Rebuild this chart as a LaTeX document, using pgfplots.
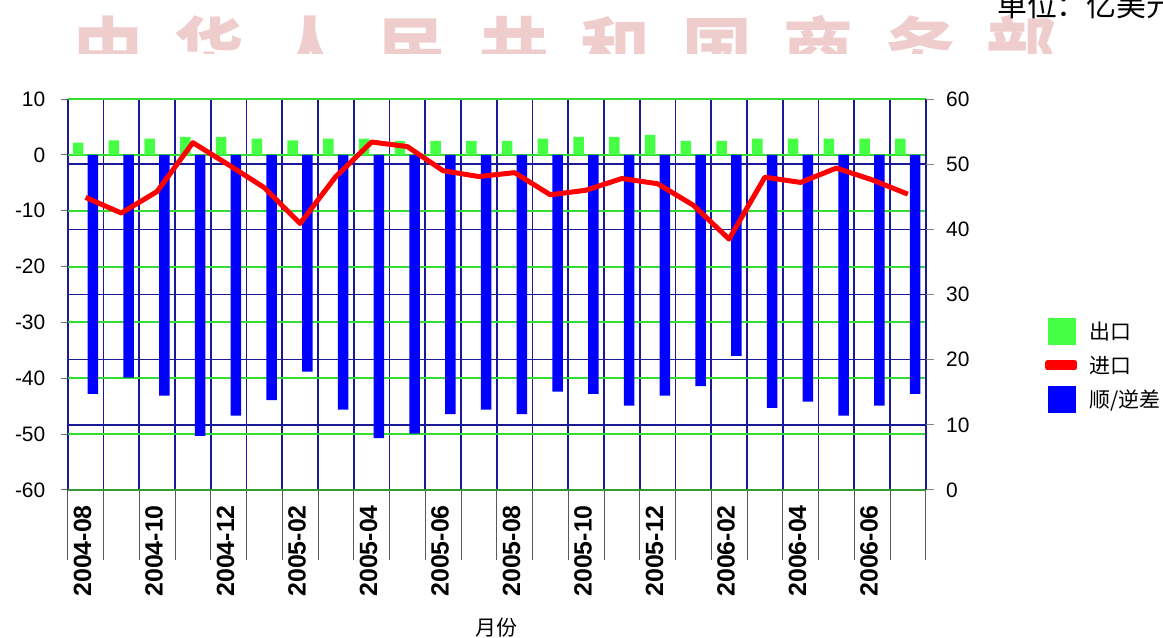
\documentclass[border=0pt]{standalone}
\usepackage{pgfplots}
\usepackage{pgfplotstable}
\pgfplotsset{compat=1.18}
\usepackage{fontspec}
\setmainfont{Liberation Sans}
\newfontfamily\cjk{Noto Sans CJK SC}

\definecolor{barGreen}{HTML}{44FF44}
\definecolor{gridGreen}{HTML}{33DD33}
\definecolor{axisGreen}{HTML}{339933}
\definecolor{barBlue}{HTML}{0000FF}
\definecolor{gridNavy}{HTML}{1A1A99}
\definecolor{lineRed}{HTML}{FF0000}
\definecolor{wmPink}{HTML}{EFCDCD}

% monthly trade, 2004-08 .. 2006-07 (x = month index)
% exp = export, imp = import (right axis), bal = balance
\pgfplotstableread{
x  exp  imp   bal
0  2.2  44.9  -42.8
1  2.6  42.5  -39.9
2  2.9  45.8  -43.1
3  3.2  53.3  -50.3
4  3.2  49.9  -46.7
5  2.9  46.4  -43.9
6  2.6  40.9  -38.8
7  2.9  48.1  -45.6
8  2.9  53.4  -50.7
9  2.5  52.7  -49.9
10 2.5  49.0  -46.4
11 2.5  48.1  -45.6
12 2.5  48.7  -46.4
13 2.9  45.3  -42.4
14 3.2  46.0  -42.8
15 3.2  47.8  -44.9
16 3.6  47.0  -43.1
17 2.5  43.7  -41.4
18 2.5  38.5  -36.0
19 2.9  48.0  -45.3
20 2.9  47.2  -44.2
21 2.9  49.4  -46.7
22 2.9  47.6  -44.9
23 2.9  45.4  -42.8
}\trade

\begin{document}
\begin{tikzpicture}
\useasboundingbox (0,0) rectangle (1163bp,638bp);

% watermark, only its upper part shows
\begin{scope}
  \clip (0,584bp) rectangle (1163bp,638bp);
  \foreach \c/\x in {中/108,华/209.5,人/311,民/412.5,共/514,和/615.5,国/717,商/818.5,务/920,部/1021.5}
    \node[anchor=base, inner sep=0pt, text=wmPink,
          font=\cjk\bfseries\fontsize{70}{70}\selectfont] at (\x bp,562bp) {\c};
\end{scope}
\node[anchor=base west, inner sep=0pt, font=\cjk\fontsize{30}{30}\selectfont]
  at (997bp,621bp) {单位：亿美元};

% left axis: export and balance bars
\begin{axis}[
  at={(67.7bp,148bp)}, anchor=south west,
  width=858bp, height=391bp, scale only axis,
  xmin=-0.5, xmax=23.5, ymin=-60, ymax=10,
  axis x line*=bottom, axis y line*=left,
  x axis line style={axisGreen, line width=1.8bp},
  y axis line style={gridNavy, line width=1.5bp},
  tick align=outside,
  xtick={-0.5,0.5,...,23.5}, xticklabels={},
  xtick style={/pgfplots/major tick length=70bp, draw=black!65, line width=0.6bp},
  xticklabel style={rotate=90, anchor=east, inner sep=0pt, yshift=3bp, xshift=-15bp,
    font=\fontsize{25}{25}\selectfont\bfseries},
  ytick={-60,-50,...,10},
  ytick style={/pgfplots/major tick length=7bp, draw=black!55, line width=1bp},
  /pgf/number format/assume math mode=true,
  yticklabel style={font=\fontsize{21}{21}\selectfont, inner sep=0pt, xshift=-18bp},
  xmajorgrids, ymajorgrids,
  major x grid style={gridNavy, line width=1.6bp},
  major y grid style={gridGreen, line width=2bp},
  extra x ticks={0,2,...,22},
  extra x tick labels={2004-08,2004-10,2004-12,2005-02,2005-04,2005-06,2005-08,2005-10,2005-12,2006-02,2006-04,2006-06},
  extra x tick style={grid=none, xtick style={draw=none}, major tick length=0pt},
  extra y ticks={-48.333,-36.667,-25,-13.333,-1.667},
  extra y tick labels={},
  extra y tick style={grid=major, major y grid style={gridNavy, line width=1.6bp},
    ytick style={draw=none}, major tick length=0pt},
  xlabel={\cjk 月份},
  xlabel style={at={(axis description cs:0.5,0)}, anchor=base, yshift=-145bp,
    rotate=0, font=\fontsize{21}{21}\selectfont},
]
\addplot[ybar, bar width=10.5bp, bar shift=-7.4bp, fill=barGreen, draw=none]
  table[x=x, y=exp] {\trade};
\addplot[ybar, bar width=10.5bp, bar shift=7.4bp, fill=barBlue, draw=none]
  table[x=x, y=bal] {\trade};
\end{axis}

% right axis: import line
\begin{axis}[
  at={(67.7bp,148bp)}, anchor=south west,
  width=858bp, height=391bp, scale only axis,
  xmin=-0.5, xmax=23.5, ymin=0, ymax=60,
  axis x line=none, axis y line*=right,
  y axis line style={gridNavy, line width=1.5bp},
  xtick=\empty, ytick={0,10,...,60},
  tick align=outside,
  ytick style={/pgfplots/major tick length=8bp, draw=black!50, line width=1bp},
  /pgf/number format/assume math mode=true,
  yticklabel style={font=\fontsize{21}{21}\selectfont, inner sep=0pt, xshift=16bp},
  legend cell align=left,
  legend style={at={(1.1391,0.4399)}, anchor=north west, draw=none, fill=none,
    inner sep=0pt, row sep=11.5bp, column sep=12bp,
    nodes={inner sep=0pt}, font=\cjk\fontsize{21}{21}\selectfont},
]
\addlegendimage{legend image code/.code={\fill[barGreen] (0bp,-13bp) rectangle (27bp,13bp);}}
\addlegendentry{出口}
\addplot[lineRed, line width=5bp, line join=round, mark=none,
  legend image code/.code={\fill[lineRed] (0bp,-2.5bp) rectangle (27bp,2.5bp);}]
  table[x=x, y=imp] {\trade};
\addlegendentry{进口}
\addlegendimage{legend image code/.code={\fill[barBlue] (0bp,-13bp) rectangle (27bp,13bp);}}
\addlegendentry{顺/逆差}
\end{axis}
\end{tikzpicture}
\end{document}
